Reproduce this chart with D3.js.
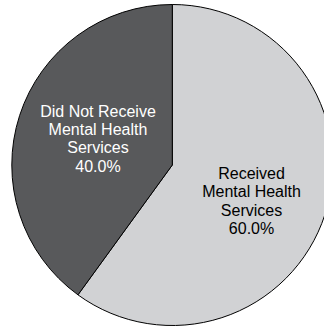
<!DOCTYPE html>
<html>
<head>
<meta charset="utf-8">
<script src="https://cdn.jsdelivr.net/npm/d3@7"></script>
<style>
  html, body { margin: 0; padding: 0; background: #fff; }
  svg { display: block; }
</style>
</head>
<body>
<svg id="chart" width="324" height="328"></svg>
<script>
const categories = ["Received Mental Health Services", "Did Not Receive Mental Health Services"];
const values = [60.0, 40.0];
const labelLines = [
  ["Received", "Mental Health", "Services", "60.0%"],
  ["Did Not Receive", "Mental Health", "Services", "40.0%"]
];
const colors = ["#d1d2d4", "#58595b"];
const textColors = ["#000000", "#ffffff"];

const svg = d3.select("#chart");
const cx = 172.3, cy = 165, R = 160.5;

const pie = d3.pie().sort(null).value(d => d.value);
const arcs = pie(categories.map((c, i) => ({ name: c, value: values[i], i })));

const arc = d3.arc().innerRadius(0).outerRadius(R);
const labelArc = d3.arc().innerRadius(0).outerRadius(162);

const g = svg.append("g").attr("transform", `translate(${cx},${cy})`);

g.selectAll("path.slice")
  .data(arcs)
  .join("path")
  .attr("class", "slice")
  .attr("d", arc)
  .attr("fill", d => colors[d.data.i])
  .attr("stroke", "#000")
  .attr("stroke-width", 1)
  .attr("stroke-linejoin", "round");

const lineH = 18.3;
const extraDx = [2.2, 2.7];
const extraDy = [10.6, -1.7];
g.selectAll("text.lbl")
  .data(arcs)
  .join("text")
  .attr("class", "lbl")
  .attr("text-anchor", "middle")
  .attr("font-family", "'Liberation Sans', Arial, sans-serif")
  .attr("font-size", 16)
  .attr("fill", d => textColors[d.data.i])
  .each(function(d) {
    const [x, y] = labelArc.centroid(d);
    const lines = labelLines[d.data.i];
    const n = lines.length;
    const startY = y + extraDy[d.data.i] - (n - 1) * lineH / 2 + 5.8;
    d3.select(this).selectAll("tspan")
      .data(lines)
      .join("tspan")
      .attr("x", x + extraDx[d.data.i])
      .attr("y", (t, k) => startY + k * lineH)
      .text(t => t);
  });
</script>
</body>
</html>
